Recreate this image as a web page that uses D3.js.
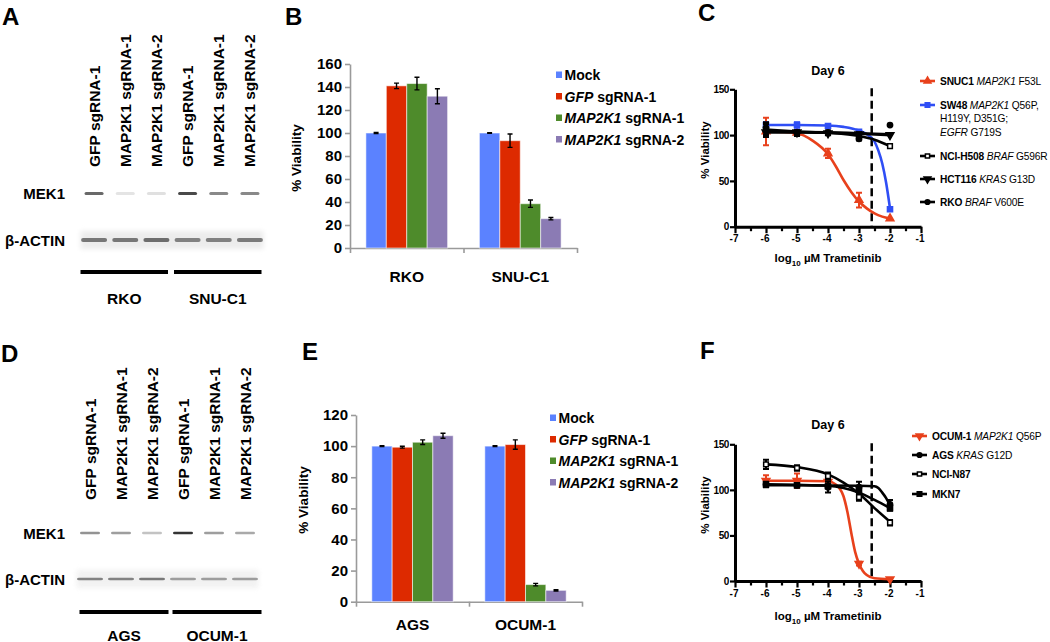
<!DOCTYPE html>
<html><head><meta charset="utf-8">
<script src="https://cdn.jsdelivr.net/npm/d3@7"></script>
<style>body{margin:0;background:#fff}svg{display:block}text{font-family:"Liberation Sans",Arial,Helvetica,sans-serif}</style>
</head><body><svg id="c" width="1050" height="642"></svg>
<script>
// ================= DATA =================
const laneLabels = ["GFP sgRNA-1","MAP2K1 sgRNA-1","MAP2K1 sgRNA-2","GFP sgRNA-1","MAP2K1 sgRNA-1","MAP2K1 sgRNA-2"];
const blotA_cells = ["RKO","SNU-C1"];
const blotA_mek1 = [0.7,0.12,0.14,0.85,0.55,0.55];
const blotA_actin = [0.6,0.6,0.65,0.55,0.55,0.58];
const blotD_cells = ["AGS","OCUM-1"];
const blotD_mek1 = [0.5,0.45,0.28,0.95,0.45,0.4];
const blotD_actin = [0.55,0.55,0.6,0.42,0.42,0.42];
const blotRows = ["MEK1","β-ACTIN"];

const barSeries = [[["Mock","n"]],[["GFP","i"],[" sgRNA-1","n"]],[["MAP2K1","i"],[" sgRNA-1","n"]],[["MAP2K1","i"],[" sgRNA-2","n"]]];
const barColors = ["#5b82ff","#dd2a00","#4e8b2b","#8b7bb4"];
const barB_categories = ["RKO","SNU-C1"];
const barB_values = [[100,141,143,132],[100,93.3,38.5,25.5]];
const barB_errors = [[0.4,2.4,5.5,6.5],[0.3,5.8,3.2,1]];
const barB_ticks = [0,20,40,60,80,100,120,140,160];
const barE_categories = ["AGS","OCUM-1"];
const barE_values = [[100,99.3,102.5,106.7],[100,101,11,7.3]];
const barE_errors = [[0.3,0.6,1.5,1.6],[0.3,3,0.8,0.4]];
const barE_ticks = [0,20,40,60,80,100,120];

const doses = [-6,-5,-4,-3,-2];
const doseXTicks = [-7,-6,-5,-4,-3,-2,-1];
const doseXMinor = [-6.5,-5.5,-4.5,-3.5,-2.5,-1.5];
const doseYTicks = [0,50,100,150];
const cmaxLog = -2.59;

// Panel C series
const snuc1_mean = [104,102.5,80,29,9],  snuc1_err = [15,2,5,8,1];
const snuc1_fitX = [-6,-5.5,-5,-4.5,-4,-3.75,-3.5,-3.25,-3,-2.75,-2.5,-2.25,-2];
const snuc1_fitY = [104,103.5,102,94,79,66,51,38,27.5,20,14.5,11,9];
const sw48_mean = [111,111,110,103.5,19], sw48_err = [3,3,2,2,1];
const sw48_fitX = [-6,-5,-4,-3.5,-3,-2.75,-2.5,-2.375,-2.25,-2.125,-2];
const sw48_fitY = [111,111,110.5,109,105,101,93,83,69,48,20];
const h508_mean = [106,102,102,97,88], h508_err = [8,3,2,2,2];
const h508_fitX = [-6,-5,-4,-3,-2.5,-2];
const h508_fitY = [106,104,102.5,99,95,88];
const hct116_mean = [103,103,102,101,100], hct116_err = [3,2,2,2,1];
const hct116_fitX = [-6,-5,-4,-3,-2];
const hct116_fitY = [103,103,102.5,101.5,100];
const rkoC_mean = [108,103,103,96,111], rkoC_err = [4,2,2,2,1];
const rkoC_fitX = [-6,-5,-4,-3,-2];
const rkoC_fitY = [104,103.5,103,102,101];

// Panel F series
const ocum_mean = [110,110,109,19,2], ocum_err = [6,8,3,2,1];
const ocum_fitX = [-6,-5,-4,-3.75,-3.5,-3.375,-3.25,-3.125,-3,-2.875,-2.75,-2.5,-2];
const ocum_fitY = [110,110,109.5,106,93,76,53,32,19,11,6.5,3,2];
const ags_mean = [106,105,103,103,84], ags_err = [3,2,6,6,5];
const ags_fitX = [-6,-5,-4,-3,-2.5,-2.375,-2.25,-2.125,-2];
const ags_fitY = [105,105,104.8,104.6,104,102,97,91,83];
const n87_mean = [128,124,115,92,64], n87_err = [5,3,4,4,3];
const n87_fitX = [-6,-5,-4,-3.5,-3,-2.5,-2];
const n87_fitY = [128,125,117,108,96,80,65];
const mkn7_mean = [106,105,104,100,80], mkn7_err = [2,2,2,3,3];
const mkn7_fitX = [-6,-5,-4,-3.5,-3,-2.5,-2];
const mkn7_fitY = [106,105.5,104.5,102,97,89,80];

const seriesC = [
  {lab:[[["SNUC1","b"],[" MAP2K1","i"],[" F53L","n"]]], color:"#e8411c", mk:"tri", mean:snuc1_mean, err:snuc1_err, fx:snuc1_fitX, fy:snuc1_fitY},
  {lab:[[["SW48","b"],[" MAP2K1","i"],[" Q56P,","n"]],[["H119Y, D351G;","n"]],[["EGFR","i"],[" G719S","n"]]], color:"#2f4ef5", mk:"sq", mean:sw48_mean, err:sw48_err, fx:sw48_fitX, fy:sw48_fitY},
  {lab:[[["NCI-H508","b"],[" BRAF","i"],[" G596R","n"]]], color:"#000", mk:"osq", mean:h508_mean, err:h508_err, fx:h508_fitX, fy:h508_fitY},
  {lab:[[["HCT116","b"],[" KRAS","i"],[" G13D","n"]]], color:"#000", mk:"tridown", mean:hct116_mean, err:hct116_err, fx:hct116_fitX, fy:hct116_fitY},
  {lab:[[["RKO","b"],[" BRAF","i"],[" V600E","n"]]], color:"#000", mk:"circ", mean:rkoC_mean, err:rkoC_err, fx:rkoC_fitX, fy:rkoC_fitY}
];
const seriesF = [
  {lab:[[["OCUM-1","b"],[" MAP2K1","i"],[" Q56P","n"]]], color:"#e8411c", mk:"tridown", mean:ocum_mean, err:ocum_err, fx:ocum_fitX, fy:ocum_fitY},
  {lab:[[["AGS","b"],[" KRAS","i"],[" G12D","n"]]], color:"#000", mk:"circ", mean:ags_mean, err:ags_err, fx:ags_fitX, fy:ags_fitY},
  {lab:[[["NCI-N87","b"]]], color:"#000", mk:"osq", mean:n87_mean, err:n87_err, fx:n87_fitX, fy:n87_fitY},
  {lab:[[["MKN7","b"]]], color:"#000", mk:"sq", mean:mkn7_mean, err:mkn7_err, fx:mkn7_fitX, fy:mkn7_fitY}
];

// ================= DRAWING =================
const svg = d3.select("#c");
const defs = svg.append("defs");
defs.append("filter").attr("id","blur").attr("x","-20%").attr("y","-100%").attr("width","140%").attr("height","300%")
  .append("feGaussianBlur").attr("stdDeviation","0.7");
defs.append("filter").attr("id","blur2").attr("x","-20%").attr("y","-100%").attr("width","140%").attr("height","300%")
  .append("feGaussianBlur").attr("stdDeviation","2.5");

function rich(g, x, y, segs, size, anchor, boldAll, ls) {
  const t = g.append("text").attr("x",x).attr("y",y).attr("font-size",size).attr("text-anchor",anchor||"start");
  if (ls) t.attr("letter-spacing", ls);
  segs.forEach(s => {
    t.append("tspan").text(s[0])
     .attr("font-weight", (boldAll || s[1]==="b") ? "bold" : "normal")
     .attr("font-style", s[1]==="i" ? "italic" : "normal")
     .style("white-space","pre");
  });
  t.attr("xml:space","preserve");
  return t;
}

function letter(x, y, s) {
  svg.append("text").attr("x",x).attr("y",y).attr("font-size",24).attr("font-weight","bold").text(s);
}

// ---------- Blots ----------
function blot(cfg) {
  const g = svg.append("g");
  const x = d3.scaleBand().domain(d3.range(laneLabels.length)).range(cfg.range);
  const bw = x.bandwidth();
  laneLabels.forEach((l,i) => {
    g.append("text").attr("transform",`translate(${x(i)+bw/2+5.5},${cfg.labelBottom}) rotate(-90)`)
      .attr("font-size",15.5).attr("font-weight","bold").text(l);
  });
  [cfg.mekY, cfg.actY].forEach((yy,k) => {
    g.append("text").attr("x",65).attr("y",yy+5.5).attr("text-anchor","end")
      .attr("font-size",15).attr("font-weight","bold").text(blotRows[k]);
  });
  // actin smudge background
  g.append("rect").attr("x",x(0)+2).attr("width",bw*6-4).attr("y",cfg.actY-9).attr("height",18)
    .attr("fill","#ececec").attr("opacity",cfg.smudge).attr("filter","url(#blur2)");
  cfg.mek.forEach((v,i) => {
    g.append("rect").attr("x",x(i)+bw/2-cfg.mekW/2).attr("width",cfg.mekW).attr("y",cfg.mekY-cfg.mekH/2).attr("height",cfg.mekH)
      .attr("rx",1.5).attr("fill","#2a2a2a").attr("opacity",v).attr("filter","url(#blur)");
  });
  cfg.act.forEach((v,i) => {
    g.append("rect").attr("x",x(i)+bw/2-cfg.actW/2).attr("width",cfg.actW).attr("y",cfg.actY-cfg.actH/2).attr("height",cfg.actH)
      .attr("rx",2).attr("fill","#2a2a2a").attr("opacity",v).attr("filter","url(#blur)");
  });
  cfg.cells.forEach((c,k) => {
    const x0 = x(k*3)+cfg.inset[0], x1 = x(k*3+2)+bw-cfg.inset[1];
    g.append("rect").attr("x",x0).attr("width",x1-x0).attr("y",cfg.barY-2).attr("height",4).attr("fill","#000");
    g.append("text").attr("x",(x0+x1)/2).attr("y",cfg.cellY+5.5).attr("text-anchor","middle")
      .attr("font-size",15.5).attr("font-weight","bold").text(c);
  });
}

blot({range:[78.5,265.5], labelBottom:167, mekY:193.5, actY:240, barY:272, cellY:298,
      mek:blotA_mek1, act:blotA_actin, cells:blotA_cells, mekW:19, mekH:3, actW:26, actH:3.8, inset:[2,4], smudge:1});
blot({range:[74.5,260.5], labelBottom:500, mekY:533, actY:579, barY:612, cellY:635,
      mek:blotD_mek1, act:blotD_actin, cells:blotD_cells, mekW:20, mekH:2.5, actW:26, actH:2.6, inset:[5,-1], smudge:0.7});

// ---------- Bar charts ----------
function barChart(cfg) {
  const g = svg.append("g");
  const y = d3.scaleLinear().domain([0, cfg.max]).range([cfg.y0, cfg.yTop]);
  const xc = d3.scaleBand().domain(cfg.cats).range([cfg.x0, cfg.x1]);
  const bw = xc.bandwidth();
  const xs = d3.scaleBand().domain(d3.range(barSeries.length)).range([bw*0.14, bw*0.86]);
  const ya = g.append("g").attr("transform",`translate(${cfg.x0},0)`)
    .call(d3.axisLeft(y).tickValues(cfg.ticks).tickSize(5).tickSizeOuter(0).tickPadding(3));
  ya.select(".domain").attr("stroke","#9a9a9a").attr("stroke-width",1.6);
  ya.selectAll(".tick line").attr("stroke","#9a9a9a").attr("stroke-width",1.6);
  ya.selectAll(".tick text").attr("font-size",15).attr("font-weight","bold").attr("fill","#000")
    .attr("font-family",'"Liberation Sans",Arial,sans-serif');
  const xb = d3.scaleLinear().domain([0, cfg.cats.length]).range([cfg.x0, cfg.x1]);
  const xa = g.append("g").attr("transform",`translate(0,${cfg.y0})`)
    .call(d3.axisBottom(xb).tickValues(d3.range(cfg.cats.length+1)).tickSize(5).tickSizeOuter(0).tickFormat(""));
  xa.select(".domain").attr("stroke","#9a9a9a").attr("stroke-width",1.6);
  xa.selectAll(".tick line").attr("stroke","#9a9a9a").attr("stroke-width",1.6);
  cfg.cats.forEach((c,ci) => {
    const gg = g.append("g").attr("transform",`translate(${xc(c)},0)`);
    cfg.values[ci].forEach((v,si) => {
      gg.append("rect").attr("x",xs(si)).attr("width",xs.bandwidth()).attr("y",y(v)).attr("height",y(0)-y(v))
        .attr("fill",barColors[si]).attr("stroke","rgba(255,255,255,0.55)").attr("stroke-width",1);
    });
    cfg.values[ci].forEach((v,si) => {
      const cx = xs(si)+xs.bandwidth()/2, e = cfg.errors[ci][si];
      gg.append("path").attr("d",`M${cx},${y(v+e)}V${y(v-e)}M${cx-2.5},${y(v+e)}H${cx+2.5}M${cx-2.5},${y(v-e)}H${cx+2.5}`)
        .attr("stroke","#000").attr("stroke-width",1.4).attr("fill","none");
    });
    g.append("text").attr("x",xc(c)+bw/2).attr("y",cfg.catY+5.5).attr("text-anchor","middle")
      .attr("font-size",15.5).attr("font-weight","bold").text(c);
  });
  g.append("text").attr("transform",`translate(${cfg.ylx},${cfg.yly}) rotate(-90)`).attr("text-anchor","middle")
    .attr("font-size",13.5).attr("font-weight","bold").text("% Viability");
  barSeries.forEach((s,i) => {
    const ly = cfg.legY[i];
    g.append("rect").attr("x",cfg.legX).attr("y",ly-3.5).attr("width",6).attr("height",6.5).attr("fill",barColors[i]);
    rich(g, cfg.legX+8.5, ly+5, s, 14, "start", true);
  });
}

barChart({x0:350, x1:577, y0:248, yTop:64, max:160, ticks:barB_ticks, cats:barB_categories,
  values:barB_values, errors:barB_errors, catY:276, ylx:301, yly:158, legX:556, legY:[75,96.5,118,139.5]});
barChart({x0:356, x1:582, y0:601.7, yTop:415, max:120, ticks:barE_ticks, cats:barE_categories,
  values:barE_values, errors:barE_errors, catY:624, ylx:308, yly:500, legX:550, legY:[418,439.5,461,482.5]});

// ---------- Dose-response ----------
function marker(g, type, cx, cy, color, s) {
  s = s || 1;
  let sym, fill = color, stroke = color, rot = 0, size = 26*s;
  if (type==="tri") sym = d3.symbolTriangle;
  else if (type==="tridown") { sym = d3.symbolTriangle; rot = 180; }
  else if (type==="sq") sym = d3.symbolSquare;
  else if (type==="osq") { sym = d3.symbolSquare; fill = "#fff"; size = 22*s; }
  else { sym = d3.symbolCircle; size = 22*s; }
  g.append("path").attr("d", d3.symbol().type(sym).size(size)())
    .attr("transform",`translate(${cx},${cy}) rotate(${rot})`)
    .attr("fill",fill).attr("stroke",stroke).attr("stroke-width",1.5);
}

function doseChart(cfg) {
  const g = svg.append("g");
  const x = d3.scaleLinear().domain([-7,-1]).range([735, 921]);
  const y = d3.scaleLinear().domain([0,150]).range([cfg.y0, cfg.y150]);
  const xm = g.append("g").attr("transform",`translate(0,${cfg.y0})`)
    .call(d3.axisBottom(x).tickValues(doseXMinor).tickSize(4.5).tickSizeOuter(0).tickFormat(""));
  xm.select(".domain").remove();
  xm.selectAll(".tick line").attr("stroke","#000").attr("stroke-width",2.2);
  const xa = g.append("g").attr("transform",`translate(0,${cfg.y0})`)
    .call(d3.axisBottom(x).tickValues(doseXTicks).tickSize(6.5).tickSizeOuter(0).tickPadding(2).tickFormat(d => String(d)));
  xa.select(".domain").attr("stroke","#000").attr("stroke-width",3);
  xa.selectAll(".tick line").attr("stroke","#000").attr("stroke-width",2.2);
  xa.selectAll(".tick text").attr("font-size",10).attr("font-weight","bold").attr("fill","#000")
    .attr("font-family",'"Liberation Sans",Arial,sans-serif').attr("dx",-1.5);
  const ya = g.append("g").attr("transform",`translate(735,0)`)
    .call(d3.axisLeft(y).tickValues(doseYTicks).tickSize(5).tickSizeOuter(0).tickPadding(1));
  ya.select(".domain").attr("stroke","#000").attr("stroke-width",3);
  ya.selectAll(".tick line").attr("stroke","#000").attr("stroke-width",2.2);
  ya.selectAll(".tick text").attr("font-size",10).attr("font-weight","bold").attr("fill","#000")
    .attr("font-family",'"Liberation Sans",Arial,sans-serif').attr("letter-spacing",-0.4);
  g.append("text").attr("x",828).attr("y",cfg.titleY+4.5).attr("text-anchor","middle")
    .attr("font-size",12.5).attr("font-weight","bold").text("Day 6");
  g.append("text").attr("transform",`translate(709,${cfg.ylabY}) rotate(-90)`).attr("text-anchor","middle")
    .attr("font-size",11.5).attr("font-weight","bold").text("% Viability");
  const xl = g.append("text").attr("x",828).attr("y",cfg.xlabY).attr("text-anchor","middle")
    .attr("font-size",11.5).attr("font-weight","bold");
  xl.append("tspan").text("log");
  xl.append("tspan").text("10").attr("font-size",8).attr("dy",3.5);
  xl.append("tspan").text(" µM Trametinib").attr("dy",-3.5).style("white-space","pre");
  xl.attr("xml:space","preserve");
  g.append("line").attr("x1",x(cmaxLog)).attr("x2",x(cmaxLog)).attr("y1",y(150)-1).attr("y2",y(0))
    .attr("stroke","#000").attr("stroke-width",2.5).attr("stroke-dasharray","8,4.5");
  const line = d3.line().curve(d3.curveMonotoneX);
  cfg.series.forEach(s => {
    g.append("path").attr("d", line(s.fx.map((v,i)=>[x(v), y(s.fy[i])])))
      .attr("fill","none").attr("stroke",s.color).attr("stroke-width",2.6);
    doses.forEach((d,i) => {
      const cx = x(d), m = s.mean[i], e = s.err[i];
      if (e > 1.5) {
        g.append("path").attr("d",`M${cx},${y(m+e)}V${y(m-e)}M${cx-3},${y(m+e)}H${cx+3}M${cx-3},${y(m-e)}H${cx+3}`)
          .attr("stroke",s.color).attr("stroke-width",2).attr("fill","none");
      }
      marker(g, s.mk, cx, y(m), s.color);
    });
  });
  cfg.series.forEach((s,k) => {
    const ly = cfg.legY[k];
    g.append("line").attr("x1",cfg.legX).attr("x2",cfg.legX+15).attr("y1",ly).attr("y2",ly)
      .attr("stroke",s.color).attr("stroke-width",2.6);
    marker(g, s.mk, cfg.legX+7.5, ly, s.color, 0.8);
    s.lab.forEach((ln,j) => {
      rich(g, cfg.legX+20, ly+3.8 + j*13.5, ln, 10.2, "start", false, -0.15);
    });
  });
}

doseChart({y0:226.7, y150:89.3, titleY:70, ylabY:150, xlabY:262, series:seriesC, legX:920, legY:[81,105,156,179,202]});
doseChart({y0:581, y150:444.3, titleY:424.3, ylabY:505, xlabY:620, series:seriesF, legX:912, legY:[436,455,474,494]});

letter(2,25,"A"); letter(285,25,"B"); letter(698,21,"C");
letter(1,362,"D"); letter(302,360,"E"); letter(700,359,"F");
</script></body></html>
